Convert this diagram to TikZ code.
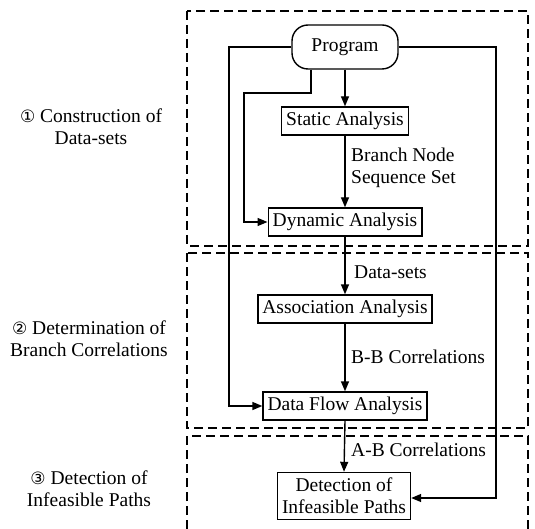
\documentclass[tikz,border=0pt]{standalone}
\usepackage{fontspec}
\setmainfont{Liberation Serif}
\newfontfamily\symfont{DejaVu Sans}
\usetikzlibrary{arrows.meta}
\begin{document}
\begin{tikzpicture}[x=1pt,y=-1pt,
  font=\fontsize{19.5}{22}\selectfont,
  proc/.style={draw, line width=1.4pt, inner xsep=4.5pt, inner ysep=0pt, minimum height=28pt},
  conn/.style={line width=1.4pt, -{Triangle[length=10pt,width=8pt]}},
  phase/.style={draw, line width=1.4pt, dash pattern=on 9pt off 5pt},
  lbl/.style={anchor=west, align=left, inner sep=0pt},
  side/.style={align=center, inner sep=0pt}]
\useasboundingbox (0,0) rectangle (535,529);
% phase boxes
\draw[phase] (187,11) rectangle (528,246);
\draw[phase] (187,253) rectangle (528,428);
\draw[phase] (187,529) -- (187,436) -- (528,436) -- (528,529);
% nodes
\node[proc, rounded corners=16pt, minimum width=106pt, minimum height=44pt] (prog) at (345,47) {Program};
\node[proc] (stat) at (345,121) {Static Analysis};
\node[proc] (dyn) at (345,222) {Dynamic Analysis};
\node[proc] (assoc) at (345,309) {Association Analysis};
\node[proc] (dfa) at (345,406) {Data Flow Analysis};
\node[proc, align=center, minimum height=47pt] (det) at (344,496) {Detection of\\Infeasible Paths};
% coordinates for routes
\coordinate (L) at (229,47);
\coordinate (R) at (496,47);
\coordinate (M) at (244,93);
% connectors
\draw[conn] (stat.north |- prog.south) -- (stat.north);
\draw[conn] (stat.south) -- (dyn.north);
\draw[conn] (dyn.south) -- (assoc.north);
\draw[conn] (assoc.south) -- (dfa.north);
\draw[conn] (dfa.south) -- (det.north);
\draw[conn] (prog.west) -- (L) |- (dfa.west);
\draw[conn] (prog.east) -- (R) |- ([yshift=-2pt]det.east);
\draw[conn] ([xshift=-34pt]prog.south) |- (M) |- (dyn.west);
% connector labels
\node[lbl] (bns) at (351,168) {Branch Node\\Sequence Set};
\node[lbl] (ds) at (354,272) {Data-sets};
\node[lbl] (bb) at (351,357) {B-B Correlations};
\node[lbl] (ab) at (351,450) {A-B Correlations};
% side labels
\node[side] (s1) at (91,127) {{\symfont\fontsize{17}{22}\selectfont ①} Construction of\\Data-sets};
\node[side] (s2) at (89,339) {{\symfont\fontsize{17}{22}\selectfont ②} Determination of\\Branch Correlations};
\node[side] (s3) at (89,489) {{\symfont\fontsize{17}{22}\selectfont ③} Detection of\\Infeasible Paths};
\end{tikzpicture}
\end{document}
